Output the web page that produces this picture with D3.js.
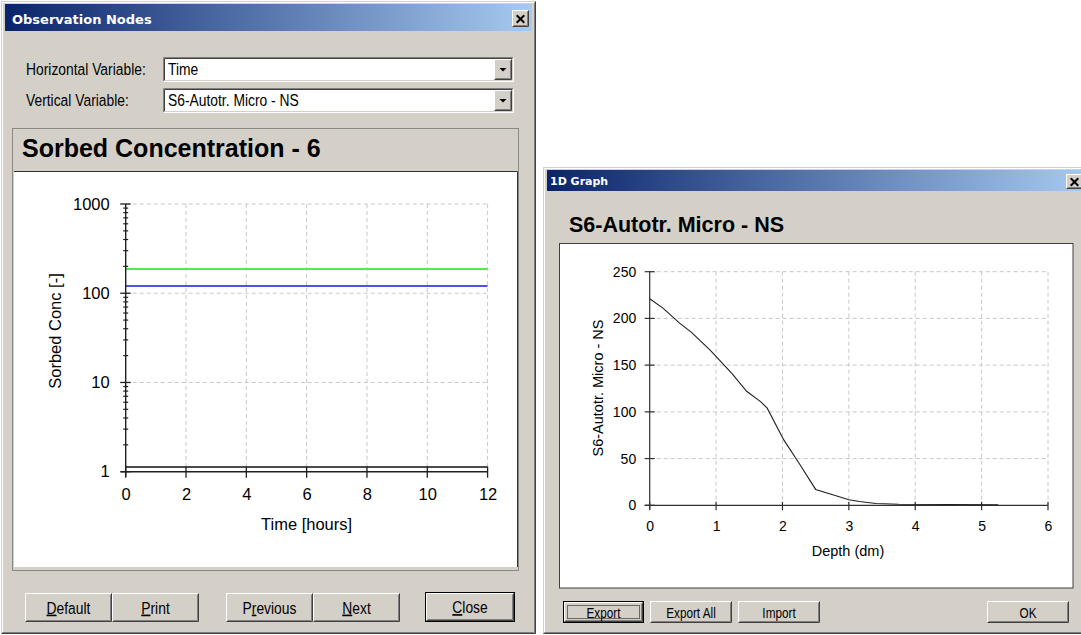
<!DOCTYPE html>
<html>
<head>
<meta charset="utf-8">
<script src="https://cdn.jsdelivr.net/npm/d3@7"></script>
<style>
  body { margin: 0; background: #ffffff; }
  svg { display: block; }
</style>
</head>
<body>
<svg id="screen" width="1081" height="635"></svg>
<script>
// ---- Observation node series (log scale, constant over time) ----
const timeHours   = [0, 12];
const sorbedGreen = [187, 187];
const sorbedBlue  = [120.5, 120.5];
const sorbedBlack = [1.13, 1.13];
const timeTicks   = [0, 2, 4, 6, 8, 10, 12];
const concTicks   = [1, 10, 100, 1000];

// ---- 1D profile: S6-Autotr. Micro - NS vs depth ----
const depthDm  = [0, 0.2, 0.45, 0.63, 0.91, 1.03, 1.24, 1.46, 1.67, 1.77, 2.02, 2.25, 2.5, 2.77, 3.0, 3.16, 3.41, 3.75, 4.5, 5.25];
const autotrNS = [221, 211, 195, 185, 166, 157, 141, 122, 111, 104, 70, 45, 17, 11, 6, 4, 2, 1.2, 0.8, 0.6];
const depthTicks = [0, 1, 2, 3, 4, 5, 6];
const valueTicks = [0, 50, 100, 150, 200, 250];

const FACE = "#D4D0C8";
const SANS = "'Liberation Sans', Arial, Helvetica, sans-serif";
const TITLE = "'DejaVu Sans', Verdana, Tahoma, sans-serif";

const svg = d3.select("#screen");

// Classic two-level 3D frame
function bevel(g, x, y, w, h, tl1, br1, tl2, br2) {
  const lines = [
    [x + 0.5, y + h - 0.5, x + 0.5, y + 0.5, x + w - 0.5, y + 0.5, tl1],
    [x + w - 0.5, y + 0.5, x + w - 0.5, y + h - 0.5, x + 0.5, y + h - 0.5, br1],
    [x + 1.5, y + h - 1.5, x + 1.5, y + 1.5, x + w - 1.5, y + 1.5, tl2],
    [x + w - 1.5, y + 1.5, x + w - 1.5, y + h - 1.5, x + 1.5, y + h - 1.5, br2]
  ];
  lines.forEach(l => {
    g.append("path")
      .attr("d", `M${l[0]},${l[1]}L${l[2]},${l[3]}L${l[4]},${l[5]}`)
      .attr("fill", "none").attr("stroke", l[6]).attr("stroke-width", 1);
  });
}
const raised = (g, x, y, w, h) => bevel(g, x, y, w, h, "#FFFFFF", "#404040", FACE, "#808080");
const sunken = (g, x, y, w, h) => bevel(g, x, y, w, h, "#808080", "#FFFFFF", "#404040", FACE);

// Dialog label text, slightly condensed like the system font
function uiText(g, x, y, str, size, anchor, underlineIdx) {
  const t = g.append("g").attr("transform", `translate(${x},${y}) scale(0.84,1)`)
    .append("text")
    .attr("font-family", SANS).attr("font-size", size)
    .attr("fill", "#000").attr("text-anchor", anchor || "start");
  if (underlineIdx == null) {
    t.text(str);
  } else {
    t.append("tspan").text(str.slice(0, underlineIdx));
    t.append("tspan").attr("text-decoration", "underline").text(str.charAt(underlineIdx));
    t.append("tspan").text(str.slice(underlineIdx + 1));
  }
  return t;
}

function button(g, x, y, w, h, label, uIdx, opts) {
  opts = opts || {};
  g.append("rect").attr("x", x).attr("y", y).attr("width", w).attr("height", h).attr("fill", FACE);
  if (opts.isDefault) {
    g.append("rect").attr("x", x + 0.5).attr("y", y + 0.5).attr("width", w - 1).attr("height", h - 1)
      .attr("fill", "none").attr("stroke", "#000");
    raised(g, x + 1, y + 1, w - 2, h - 2);
  } else {
    raised(g, x, y, w, h);
  }
  if (opts.focus) {
    g.append("rect").attr("x", x + 4.5).attr("y", y + 4.5).attr("width", w - 9).attr("height", h - 9)
      .attr("fill", "none").attr("stroke", "#000").attr("stroke-dasharray", "1,1");
  }
  uiText(g, x + w / 2, y + opts.base, label, opts.size, "middle", uIdx);
}

function closeBox(g, x, y, w, h) {
  g.append("rect").attr("x", x).attr("y", y).attr("width", w).attr("height", h).attr("fill", FACE);
  raised(g, x, y, w, h);
  const cx = x + w / 2, cy = y + h / 2, s = 3.8;
  g.append("path")
    .attr("d", `M${cx - s},${cy - s + 0.5}L${cx + s},${cy + s + 0.5}M${cx + s},${cy - s + 0.5}L${cx - s},${cy + s + 0.5}`)
    .attr("stroke", "#000").attr("stroke-width", 2);
}

function titleBar(g, id, x, y, w, h, title, size, base, pad) {
  const grad = svg.append("defs").append("linearGradient").attr("id", id)
    .attr("x1", "0%").attr("x2", "100%").attr("y1", "0%").attr("y2", "0%");
  grad.append("stop").attr("offset", "0%").attr("stop-color", "#0A246A");
  grad.append("stop").attr("offset", "100%").attr("stop-color", "#A6CAF0");
  g.append("rect").attr("x", x).attr("y", y).attr("width", w).attr("height", h).attr("fill", `url(#${id})`);
  g.append("text").attr("x", x + pad).attr("y", y + base)
    .attr("font-family", TITLE).attr("font-weight", "bold").attr("font-size", size)
    .attr("fill", "#fff").text(title);
}

function windowFrame(g, x, y, w, h) {
  g.append("rect").attr("x", x).attr("y", y).attr("width", w).attr("height", h).attr("fill", FACE);
  bevel(g, x, y, w, h, FACE, "#404040", "#FFFFFF", "#808080");
}

function combo(g, x, y, w, h, value, base) {
  g.append("rect").attr("x", x).attr("y", y).attr("width", w).attr("height", h).attr("fill", "#fff");
  sunken(g, x, y, w, h);
  const bx = x + w - 20, by = y + 2, bw = 18, bh = h - 4;
  g.append("rect").attr("x", bx).attr("y", by).attr("width", bw).attr("height", bh).attr("fill", FACE);
  raised(g, bx, by, bw, bh);
  const cx = bx + bw / 2, cy = by + bh / 2;
  g.append("path").attr("d", `M${cx - 3.5},${cy - 1.5}L${cx + 3.5},${cy - 1.5}L${cx},${cy + 2}Z`).attr("fill", "#000");
  uiText(g, x + 5, base, value, 16.5);
}

/* ================= Observation Nodes dialog ================= */
const left = svg.append("g");
windowFrame(left, 1, 1, 535, 633);
titleBar(left, "tbL", 5, 4, 527, 27, "Observation Nodes", 13, 19.5, 7);
closeBox(left, 512, 10, 17, 17);

uiText(left, 26, 75, "Horizontal Variable:", 16.5);
uiText(left, 26, 106, "Vertical Variable:", 16.5);
combo(left, 163, 57, 351, 25, "Time", 75);
combo(left, 163, 88, 351, 25, "S6-Autotr. Micro - NS", 106);

// graph panel
left.append("rect").attr("x", 12.5).attr("y", 128.5).attr("width", 506).attr("height", 442)
  .attr("fill", FACE).attr("stroke", "#404040").attr("stroke-dasharray", "1,1");
left.append("text").attr("x", 22).attr("y", 157)
  .attr("font-family", SANS).attr("font-weight", "bold").attr("font-size", 25)
  .attr("fill", "#000").text("Sorbed Concentration - 6");
left.append("rect").attr("x", 14).attr("y", 171).attr("width", 504).attr("height", 396).attr("fill", "#fff");
left.append("path").attr("d", "M14,171.5H517.5V567").attr("fill", "none").attr("stroke", "#303030");

const xT = d3.scaleLinear().domain([0, 12]).range([125.7, 487.6]);
const yC = d3.scaleLog().domain([1, 1000]).range([471.7, 204]);

const plotL = left.append("g");
// grid
plotL.selectAll("line.gv").data(timeTicks.slice(1)).join("line")
  .attr("x1", d => xT(d)).attr("x2", d => xT(d)).attr("y1", yC(1000)).attr("y2", yC(1))
  .attr("stroke", "#C8C8C8").attr("stroke-dasharray", "4,3");
plotL.selectAll("line.gh").data(concTicks.slice(1)).join("line")
  .attr("x1", xT(0)).attr("x2", xT(12)).attr("y1", d => yC(d)).attr("y2", d => yC(d))
  .attr("stroke", "#C8C8C8").attr("stroke-dasharray", "4,3");

// series
const lineT = (vals) => d3.line().x((d, i) => xT(timeHours[i])).y(d => yC(d))(vals);
plotL.append("path").attr("d", lineT(sorbedGreen)).attr("fill", "none").attr("stroke", "#4CF04C").attr("stroke-width", 2);
plotL.append("path").attr("d", lineT(sorbedBlue)).attr("fill", "none").attr("stroke", "#5050F0").attr("stroke-width", 2);
plotL.append("path").attr("d", lineT(sorbedBlack)).attr("fill", "none").attr("stroke", "#101010").attr("stroke-width", 1.5);

// axes lines and cross ticks
const AX = "#202020";
plotL.append("line").attr("x1", xT(0)).attr("x2", xT(0)).attr("y1", yC(1000)).attr("y2", yC(1) + 5)
  .attr("stroke", AX).attr("stroke-width", 1.4);
plotL.append("line").attr("x1", xT(0) - 5).attr("x2", xT(12)).attr("y1", yC(1)).attr("y2", yC(1))
  .attr("stroke", AX).attr("stroke-width", 1.4);
const minorC = yC.ticks().filter(v => concTicks.indexOf(v) < 0);
plotL.selectAll("line.ymin").data(minorC).join("line")
  .attr("x1", xT(0) - 2.5).attr("x2", xT(0) + 2.5).attr("y1", d => yC(d)).attr("y2", d => yC(d))
  .attr("stroke", AX).attr("stroke-width", 1.2);
plotL.selectAll("line.ymaj").data(concTicks).join("line")
  .attr("x1", xT(0) - 5.5).attr("x2", xT(0) + 5).attr("y1", d => yC(d)).attr("y2", d => yC(d))
  .attr("stroke", AX).attr("stroke-width", 1.3);
plotL.selectAll("line.xt").data(timeTicks).join("line")
  .attr("x1", d => xT(d)).attr("x2", d => xT(d)).attr("y1", yC(1) - 5).attr("y2", yC(1) + 6)
  .attr("stroke", AX).attr("stroke-width", 1.3);

// tick labels through d3 axes
const yAxisL = plotL.append("g").attr("transform", `translate(${xT(0)},0)`)
  .call(d3.axisLeft(yC).tickValues(concTicks).tickFormat(d3.format("d")).tickSize(0).tickPadding(16));
const xAxisL = plotL.append("g").attr("transform", `translate(0,${yC(1)})`)
  .call(d3.axisBottom(xT).tickValues(timeTicks).tickFormat(d3.format("d")).tickSize(0).tickPadding(16.5));
[yAxisL, xAxisL].forEach(a => {
  a.select(".domain").remove();
  a.selectAll("text").attr("font-family", SANS).attr("font-size", 16.5).attr("fill", "#000");
});
plotL.append("text").attr("x", 306.6).attr("y", 530).attr("text-anchor", "middle")
  .attr("font-family", SANS).attr("font-size", 16.5).attr("fill", "#000").text("Time [hours]");
plotL.append("text").attr("transform", "translate(61,331) rotate(-90)").attr("text-anchor", "middle")
  .attr("font-family", SANS).attr("font-size", 16.5).attr("fill", "#000").text("Sorbed Conc [-]");

// buttons
const bOptL = { size: 16.5, base: 20.5 };
button(left, 25, 593, 87, 29, "Default", 0, bOptL);
button(left, 112, 593, 87, 29, "Print", 0, bOptL);
button(left, 226, 593, 87, 29, "Previous", 1, bOptL);
button(left, 313, 593, 87, 29, "Next", 0, bOptL);
button(left, 425, 592, 90, 30, "Close", 0, { size: 16.5, base: 21, isDefault: true });

/* ================= 1D Graph window ================= */
const right = svg.append("g");
windowFrame(right, 543, 167, 545, 467);
titleBar(right, "tbR", 547, 170, 540, 21, "1D Graph", 11, 15, 3);
closeBox(right, 1066, 174, 17, 15);

right.append("text").attr("x", 569).attr("y", 231.7)
  .attr("font-family", SANS).attr("font-weight", "bold").attr("font-size", 21.5)
  .attr("fill", "#000").text("S6-Autotr. Micro - NS");
right.append("rect").attr("x", 559.5).attr("y", 243.5).attr("width", 513.5).attr("height", 344.5)
  .attr("fill", "#fff").attr("stroke", "#404040");

const xD = d3.scaleLinear().domain([0, 6]).range([649.7, 1048]);
const yS = d3.scaleLinear().domain([0, 250]).range([505.3, 271.7]);
const plotR = right.append("g");

plotR.selectAll("line.gv").data(depthTicks.slice(1)).join("line")
  .attr("x1", d => xD(d)).attr("x2", d => xD(d)).attr("y1", yS(250)).attr("y2", yS(0))
  .attr("stroke", "#C8C8C8").attr("stroke-dasharray", "4,3");
plotR.selectAll("line.gh").data(valueTicks.slice(1)).join("line")
  .attr("x1", xD(0)).attr("x2", xD(6)).attr("y1", d => yS(d)).attr("y2", d => yS(d))
  .attr("stroke", "#C8C8C8").attr("stroke-dasharray", "4,3");

const AXR = "#303030";
plotR.append("line").attr("x1", xD(0)).attr("x2", xD(0)).attr("y1", yS(250)).attr("y2", yS(0) + 4)
  .attr("stroke", AXR).attr("stroke-width", 1.2);
plotR.append("line").attr("x1", xD(0) - 5).attr("x2", xD(6)).attr("y1", yS(0)).attr("y2", yS(0))
  .attr("stroke", AXR).attr("stroke-width", 1.2);
plotR.selectAll("line.yt").data(valueTicks).join("line")
  .attr("x1", xD(0) - 5).attr("x2", xD(0) + 5).attr("y1", d => yS(d)).attr("y2", d => yS(d))
  .attr("stroke", AXR).attr("stroke-width", 1.2);
plotR.selectAll("line.xt").data(depthTicks).join("line")
  .attr("x1", d => xD(d)).attr("x2", d => xD(d)).attr("y1", yS(0) - 3.5).attr("y2", yS(0) + 5)
  .attr("stroke", AXR).attr("stroke-width", 1.2);

plotR.append("path")
  .attr("d", d3.line().x((d, i) => xD(depthDm[i])).y(d => yS(d))(autotrNS))
  .attr("fill", "none").attr("stroke", "#202020").attr("stroke-width", 1.1);

const yAxisR = plotR.append("g").attr("transform", `translate(${xD(0)},0)`)
  .call(d3.axisLeft(yS).tickValues(valueTicks).tickFormat(d3.format("d")).tickSize(0).tickPadding(13.5));
const xAxisR = plotR.append("g").attr("transform", `translate(0,${yS(0)})`)
  .call(d3.axisBottom(xD).tickValues(depthTicks).tickFormat(d3.format("d")).tickSize(0).tickPadding(16));
[yAxisR, xAxisR].forEach(a => {
  a.select(".domain").remove();
  a.selectAll("text").attr("font-family", SANS).attr("font-size", 14).attr("fill", "#000");
});
plotR.append("text").attr("x", 848).attr("y", 556).attr("text-anchor", "middle")
  .attr("font-family", SANS).attr("font-size", 14.5).attr("fill", "#000").text("Depth (dm)");
plotR.append("text").attr("transform", "translate(603,388) rotate(-90)").attr("text-anchor", "middle")
  .attr("font-family", SANS).attr("font-size", 14.5).attr("fill", "#000").text("S6-Autotr. Micro - NS");

const bOptR = { size: 14, base: 16.5 };
button(right, 563, 601, 81, 22, "Export", null, { size: 14, base: 16.5, isDefault: true, focus: true });
button(right, 650, 601, 82, 22, "Export All", null, bOptR);
button(right, 738, 601, 82, 22, "Import", null, bOptR);
button(right, 987, 601, 82, 22, "OK", null, bOptR);
</script>
</body>
</html>
